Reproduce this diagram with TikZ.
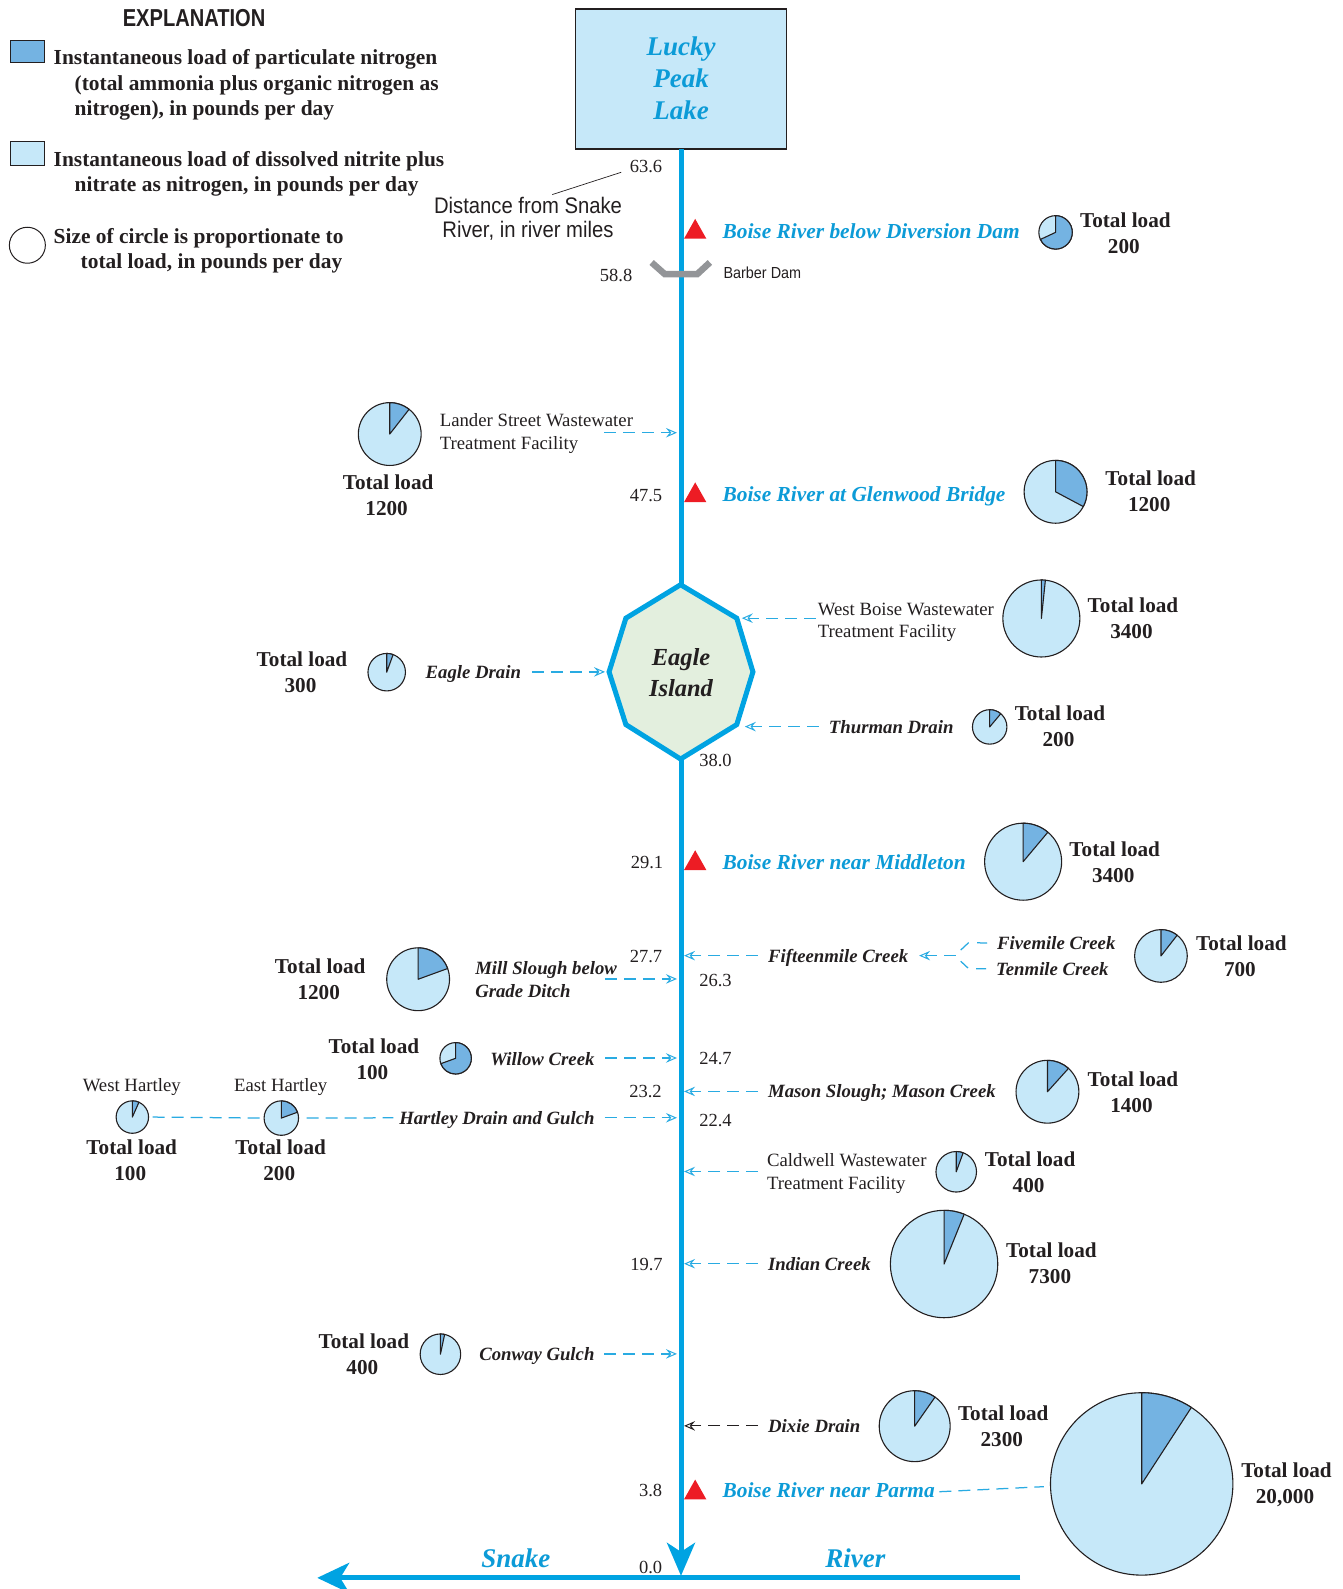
\documentclass[tikz,border=0pt]{standalone}
\usepackage{fontspec}
\setmainfont{Liberation Serif}
\setsansfont{Liberation Sans}
\newfontfamily\narrowsans[FakeStretch=0.9]{Liberation Sans}
\newfontfamily\narrowbold[FakeStretch=0.82]{Liberation Sans}
\usetikzlibrary{arrows.meta}
\definecolor{riverblue}{RGB}{0,163,226}
\definecolor{labelblue}{RGB}{12,155,215}
\definecolor{tribblue}{RGB}{41,171,226}
\definecolor{piedark}{RGB}{116,179,226}
\definecolor{pielight}{RGB}{198,232,249}
\definecolor{lakefill}{RGB}{198,232,249}
\definecolor{islandfill}{RGB}{227,239,222}
\definecolor{damgray}{RGB}{147,149,152}
\definecolor{ink}{RGB}{35,31,32}
\definecolor{alertred}{RGB}{237,28,36}
\tikzset{
  x=1.01358pt,y=-1.01358pt,
  every node/.style={text=ink,inner sep=0pt,outer sep=0pt},
  totalload/.style={font=\bfseries\fontsize{21.2}{26}\selectfont,align=center},
  riverno/.style={font=\fontsize{18.5}{22}\selectfont},
  station/.style={anchor=west,text=labelblue,font=\bfseries\itshape\fontsize{21.4}{24}\selectfont,text height=17pt,text depth=3pt},
  tribname/.style={anchor=west,font=\bfseries\itshape\fontsize{18.75}{23}\selectfont,text height=16pt,text depth=3pt},
  tribtwo/.style={anchor=west,align=left,font=\bfseries\itshape\fontsize{18.75}{22.8}\selectfont},
  plantname/.style={anchor=west,align=left,font=\fontsize{18.75}{22.8}\selectfont},
  siteabove/.style={font=\fontsize{18.75}{22}\selectfont},
  legendtext/.style={anchor=north west,align=left,font=\bfseries\fontsize{21.4}{25.6}\selectfont},
  trib/.style={draw=tribblue,line width=1.25pt,dash pattern=on 12pt off 7pt},
  tribin/.style={trib,-{Stealth[open,length=11pt,width=9.5pt,inset=4pt,line width=1pt]},shorten >=0pt},
  dixie/.style={tribin,draw=ink},
  riverline/.style={draw=riverblue,line width=5pt},
  piedisc/.style={circle,draw=ink,fill=pielight,line width=1.1pt},
  wedge/.style={fill=piedark,draw=ink,line width=1.1pt,line join=round},
  swatch/.style={draw=ink,line width=1pt},
  gage/.style={fill=alertred,draw=none},
}
\newcommand{\loadpie}[5]{%
  \node[piedisc,minimum size={2*#4*1.01358pt}] (#1) at (#2+0.6,#3+0.3) {};
  \path[wedge] (#1.center) -- (#1.north) arc[start angle=90,end angle={90-#5},radius={#4*1.01358pt}] -- cycle;
}
\newcommand{\gagemark}[1]{\path[gage] (675,#1+9.5) -- (697,#1+9.5) -- (686,#1-10) -- cycle;}
\newcommand{\tload}[1]{Total load\\\hspace*{-3pt}#1}
\begin{document}
\begin{tikzpicture}
\useasboundingbox (0,0) rectangle (1325,1568);

% legend
\node[font=\narrowbold\bfseries\fontsize{24.5}{26}\selectfont] (legendtitle) at (191.5,18) {EXPLANATION};
\path[swatch,fill=piedark] (10,40) rectangle (44,62);
\path[swatch,fill=pielight] (10,140) rectangle (44,163);
\node[draw=ink,line width=1pt,circle,minimum size=36pt] (legendcircle) at (27,242) {};
\node[legendtext] (legendone) at (53,49) {Instantaneous load of particulate nitrogen\\\hspace*{21pt}(total ammonia plus organic nitrogen as\\\hspace*{21pt}nitrogen), in pounds per day};
\node[legendtext] (legendtwo) at (53,149) {Instantaneous load of dissolved nitrite plus\\\hspace*{21pt}nitrate as nitrogen, in pounds per day};
\node[legendtext] (legendthree) at (53,225) {Size of circle is proportionate to\\\hspace*{27pt}total load, in pounds per day};

% river
\node[draw=ink,line width=1.4pt,fill=lakefill,minimum width=211pt,minimum height=140pt,align=center,text=labelblue,font=\bfseries\itshape\fontsize{27}{32}\selectfont] (lake) at (672,78) {\raisebox{1pt}{Lucky}\\\raisebox{1pt}{Peak}\\\raisebox{1pt}{Lake}};
\coordinate (islandtop) at (672,577);
\coordinate (islandbottom) at (672,749);
\coordinate (mouth) at (672,1555);
\coordinate (snakestart) at (1007,1557);
\coordinate (snakeend) at (313,1557);
\draw[riverline] (lake.south) -- (islandtop);
\draw[riverline,-{Stealth[length=33pt,width=28pt,inset=9pt]}] (islandbottom) -- (mouth);
\draw[riverline,-{Stealth[length=32pt,width=30pt,inset=9pt]}] (snakestart) -- (snakeend);
\path[draw=riverblue,line width=5pt,fill=islandfill,line join=miter] (671.6,577) -- (727,610) -- (743,663) -- (727,715) -- (671.6,749) -- (617.6,715) -- (601,663) -- (617.6,610) -- cycle;
\node[align=center,font=\bfseries\itshape\fontsize{24.5}{31}\selectfont] (island) at (672,664) {Eagle\\Island};
\node[text=labelblue,font=\bfseries\itshape\fontsize{27}{30}\selectfont] (snakelabel) at (509,1538) {Snake};
\node[text=labelblue,font=\bfseries\itshape\fontsize{27}{30}\selectfont] (riverlabel) at (844,1538) {River};

% dam
\draw[damgray,line width=6.5pt,line join=miter] (643,259) -- (656,270.5) -- (688,270.5) -- (700.5,259);
\node[anchor=west,font=\narrowsans\fontsize{16}{18}\selectfont] (barber) at (714,269) {Barber Dam};

% distance note
\node[align=center,font=\narrowsans\fontsize{22.5}{23.5}\selectfont] (distance) at (521,216) {Distance from Snake\\River, in river miles};
\coordinate (leaderend) at (613,170);
\coordinate (leaderstart) at (545,192);
\draw[ink,line width=.7pt] (leaderstart) -- (leaderend);

% river miles
\node[riverno] (m636) at (637.5,164) {63.6};
\node[riverno] (m588) at (608,271.5) {58.8};
\node[riverno] (m475) at (637.5,488.5) {47.5};
\node[riverno] (m380) at (706,750.5) {38.0};
\node[riverno] (m291) at (638.5,851.5) {29.1};
\node[riverno] (m277) at (637.5,943.5) {27.7};
\node[riverno] (m263) at (706,967.5) {26.3};
\node[riverno] (m247) at (706,1044.5) {24.7};
\node[riverno] (m232) at (637,1077.5) {23.2};
\node[riverno] (m224) at (706,1105.5) {22.4};
\node[riverno] (m197) at (638,1247.5) {19.7};
\node[riverno] (m38) at (642,1470.5) {3.8};
\node[riverno] (m00) at (642,1547) {0.0};

% gaging stations
\gagemark{226}
\gagemark{486}
\gagemark{849}
\gagemark{1470}
\node[station] (sdiversion) at (713,228) {Boise River below Diversion Dam};
\node[station] (sglenwood) at (713,488) {Boise River at Glenwood Bridge};
\node[station] (smiddleton) at (713,851) {Boise River near Middleton};
\node[station] (sparma) at (713,1471) {Boise River near Parma};

% tributary names
\node[plantname] (lander) at (434,428) {Lander Street Wastewater\\Treatment Facility};
\node[plantname] (westboise) at (807,614) {West Boise Wastewater\\Treatment Facility};
\node[tribname] (eagle) at (420,663) {Eagle Drain};
\node[tribname] (thurman) at (818,717) {Thurman Drain};
\node[tribname] (fifteen) at (758,943) {Fifteenmile Creek};
\node[tribname] (fivemile) at (984,931) {Fivemile Creek};
\node[tribname] (tenmile) at (983,956) {Tenmile Creek};
\node[tribtwo] (mill) at (469,966.5) {Mill Slough below\\Grade Ditch};
\node[tribname] (willow) at (484,1045) {Willow Creek};
\node[tribname] (mason) at (758,1077) {Mason Slough; Mason Creek};
\node[tribname] (hartley) at (394,1103) {Hartley Drain and Gulch};
\node[plantname] (caldwell) at (757,1158) {Caldwell Wastewater\\Treatment Facility};
\node[tribname] (indian) at (758,1247) {Indian Creek};
\node[tribname] (conway) at (473,1336) {Conway Gulch};
\node[tribname] (dixiename) at (758,1407) {Dixie Drain};
\node[siteabove] (westh) at (130,1073) {West Hartley};
\node[siteabove] (easth) at (277,1073) {East Hartley};

% pies
\loadpie{pdiversion}{1041}{229}{16.5}{245}
\loadpie{plander}{384}{428}{31}{38}
\loadpie{pglenwood}{1041}{485}{31}{118}
\loadpie{pwestboise}{1027}{610}{38}{6}
\loadpie{peagle}{381}{663}{18.5}{20}
\loadpie{pthurman}{976}{717}{17}{40}
\loadpie{pmiddleton}{1009}{850}{38}{40}
\loadpie{pmill}{412}{966}{31}{70}
\loadpie{pfive}{1145}{943}{26}{38}
\loadpie{pwillow}{449}{1044}{15.5}{250}
\loadpie{pmason}{1033}{1077}{31}{42}
\loadpie{pwesth}{130}{1102}{16}{24}
\loadpie{peasth}{277}{1103}{17}{70}
\loadpie{pcaldwell}{943}{1156}{20}{20}
\loadpie{pindian}{931}{1247}{53}{22}
\loadpie{pconway}{434}{1336}{20}{12}
\loadpie{pdixie}{902}{1407}{35}{35}
\loadpie{pparma}{1126}{1464}{90}{33}

% totals
\node[totalload] (tdiversion) at (1110.5,230) {\tload{200}};
\node[totalload] (tlander) at (383,489) {\tload{1200}};
\node[totalload] (tglenwood) at (1135.5,485) {\tload{1200}};
\node[totalload] (twestboise) at (1118,610.5) {\tload{3400}};
\node[totalload] (teagle) at (298,663) {\tload{300}};
\node[totalload] (tthurman) at (1046,717) {\tload{200}};
\node[totalload] (tmiddleton) at (1100,851) {\tload{3400}};
\node[totalload] (tmill) at (316,966) {\tload{1200}};
\node[totalload] (tfive) at (1225,943.5) {\tload{700}};
\node[totalload] (twillow) at (369,1045) {\tload{100}};
\node[totalload] (tmason) at (1118,1077.5) {\tload{1400}};
\node[totalload] (twesth) at (130,1145) {\tload{100}};
\node[totalload] (teasth) at (277,1145) {\tload{200}};
\node[totalload] (tcaldwell) at (1016.5,1156.5) {\tload{400}};
\node[totalload] (tindian) at (1037.5,1247) {\tload{7300}};
\node[totalload] (tconway) at (359,1336) {\tload{400}};
\node[totalload] (tdixie) at (990,1407.5) {\tload{2300}};
\node[totalload] (tparma) at (1269.5,1465) {\tload{20,000}};

% inflow targets
\coordinate (ilander) at (668,427);
\coordinate (iwestboise) at (732,610);
\coordinate (ieagle) at (597,663);
\coordinate (ithurman) at (735,717);
\coordinate (ififteen) at (675,943);
\coordinate (imill) at (668,966);
\coordinate (iwillow) at (668,1044);
\coordinate (imason) at (675,1077);
\coordinate (ihartley) at (668,1103);
\coordinate (icaldwell) at (675,1156);
\coordinate (iindian) at (675,1247);
\coordinate (iconway) at (668,1336);
\coordinate (idixie) at (675,1407);
\coordinate (ibranch) at (907,943);
\coordinate (ifork) at (943,943);
\coordinate (parmafrom) at (927,1472);
\coordinate (parmato) at (1030,1467);

% connectors
\draw[tribin,shorten <=-29pt] (lander.east |- ilander) -- (ilander);
\draw[tribin,shorten <=2pt] (westboise.west |- iwestboise) -- (iwestboise);
\draw[tribin,shorten <=11pt] (eagle.east |- ieagle) -- (ieagle);
\draw[tribin,shorten <=10pt] (thurman.west |- ithurman) -- (ithurman);
\draw[tribin,shorten <=10pt] (fifteen.west |- ififteen) -- (ififteen);
\draw[tribin,shorten <=-12pt] (mill.east |- imill) -- (imill);
\draw[tribin,shorten <=11pt] (willow.east |- iwillow) -- (iwillow);
\draw[tribin,shorten <=10pt] (mason.west |- imason) -- (imason);
\draw[tribin,shorten <=10pt] (hartley.east |- ihartley) -- (ihartley);
\draw[tribin,shorten <=9pt] (caldwell.west |- icaldwell) -- (icaldwell);
\draw[tribin,shorten <=10pt] (indian.west |- iindian) -- (iindian);
\draw[tribin,shorten <=10pt] (conway.east |- iconway) -- (iconway);
\draw[dixie,shorten <=10pt] (dixiename.west |- idixie) -- (idixie);
\draw[tribin] (ifork) -- (ibranch);
\coordinate (fivebend) at (956,930);
\coordinate (fiveend) at (948,937.5);
\coordinate (tenbend) at (956,956);
\coordinate (tenend) at (948,948.5);
\draw[trib,shorten <=10pt,dash pattern=on 10pt off 8.5pt on 12pt off 20pt] (fivemile.west) -- (fivebend) -- (fiveend);
\draw[trib,shorten <=10pt,dash pattern=on 10pt off 8.5pt on 12pt off 20pt] (tenmile.west) -- (tenbend) -- (tenend);
\draw[trib,shorten >=2pt] (pwesth.east) ++(4,0) -- (peasth.west);
\draw[trib,shorten >=6pt] (peasth.east) ++(8,0) -- (hartley.west);
\draw[trib] (parmafrom) -- (parmato);
\end{tikzpicture}
\end{document}
